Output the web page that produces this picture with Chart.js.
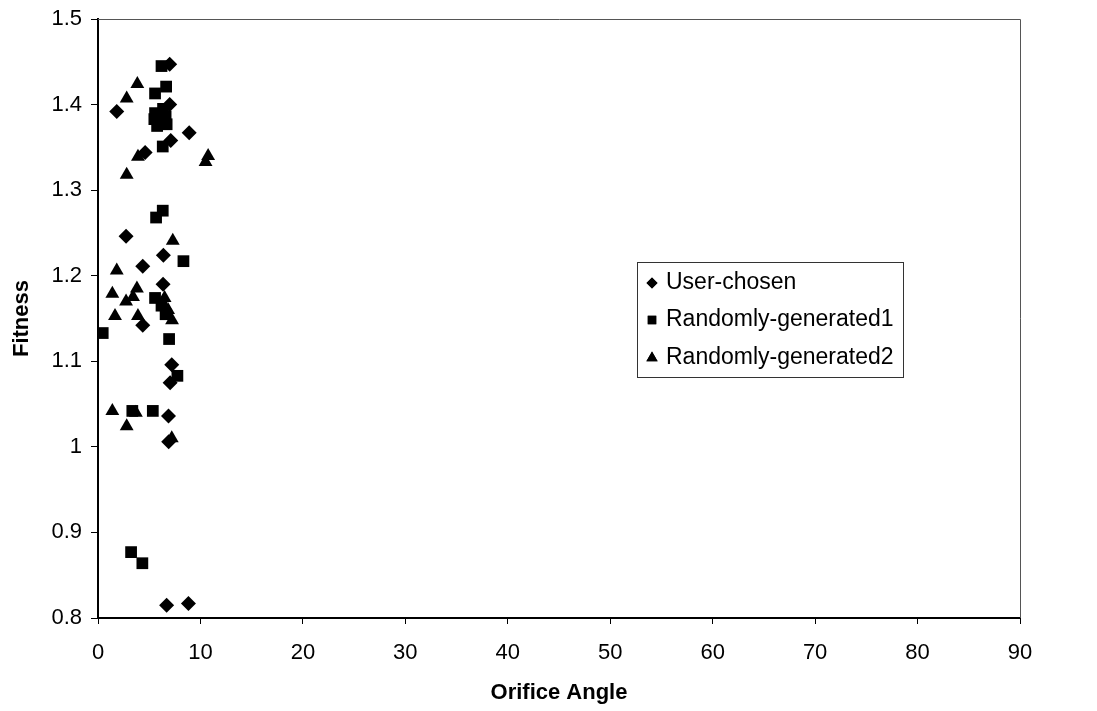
<!DOCTYPE html>
<html>
<head>
<meta charset="utf-8">
<script src="https://cdn.jsdelivr.net/npm/chart.js@4/dist/chart.umd.min.js"></script>
<style>
  html, body { margin: 0; padding: 0; background: #fff; }
  #wrap { width: 1097px; height: 711px; position: relative; }
</style>
</head>
<body>
<div id="wrap"><canvas id="c" width="1097" height="711"></canvas></div>
<script>
// Orifice angle (degrees) vs. fitness for three design sets
const seriesNames = ['User-chosen', 'Randomly-generated1', 'Randomly-generated2'];

const userX = [7.0, 1.83, 7.0, 8.9, 7.1, 4.6, 2.74, 6.38, 4.37, 6.35, 4.37, 7.2, 7.04, 6.88, 6.9, 6.7, 8.83];
const userY = [1.447, 1.392, 1.400, 1.367, 1.358, 1.344, 1.246, 1.224, 1.211, 1.190, 1.142, 1.096, 1.075, 1.036, 1.006, 0.815, 0.817];

const rand1X = [6.2, 6.65, 5.57, 5.57, 6.35, 5.5, 6.6, 5.77, 6.7, 6.32, 6.32, 5.67, 8.34, 5.57, 6.2, 6.6, 0.46, 6.94, 7.75, 3.35, 5.35, 3.23, 4.33];
const rand1Y = [1.445, 1.421, 1.413, 1.390, 1.395, 1.383, 1.386, 1.375, 1.377, 1.351, 1.276, 1.268, 1.217, 1.174, 1.165, 1.155, 1.133, 1.126, 1.083, 1.042, 1.042, 0.877, 0.864];

const rand2X = [3.84, 2.8, 3.9, 10.5, 10.75, 2.8, 7.3, 1.83, 3.8, 1.4, 2.74, 3.42, 6.5, 6.84, 7.23, 1.66, 3.9, 1.4, 3.7, 2.8, 7.2];
const rand2Y = [1.424, 1.407, 1.339, 1.333, 1.340, 1.318, 1.241, 1.206, 1.185, 1.179, 1.170, 1.175, 1.174, 1.160, 1.148, 1.153, 1.153, 1.042, 1.040, 1.024, 1.010];

const xTickLabels = ['0', '10', '20', '30', '40', '50', '60', '70', '80', '90'];
const yTickLabels = ['0.8', '0.9', '1', '1.1', '1.2', '1.3', '1.4', '1.5'];

const FONT = '"Liberation Sans", Arial, sans-serif';

function pts(xs, ys) { return xs.map((x, i) => ({ x: x, y: ys[i] })); }

const markerStyles = [
  { pointStyle: 'rectRot', radius: 7.5 },
  { pointStyle: 'rect', radius: 8.3 },
  { pointStyle: 'triangle', radius: 8 }
];

const datasets = [pts(userX, userY), pts(rand1X, rand1Y), pts(rand2X, rand2Y)].map((d, i) => ({
  label: seriesNames[i],
  data: d,
  pointStyle: markerStyles[i].pointStyle,
  pointRadius: markerStyles[i].radius,
  pointBackgroundColor: '#000',
  pointBorderColor: '#000',
  pointBorderWidth: 0,
  showLine: false
}));

// plot frame (top and right edges) and in-plot legend box
const framePlugin = {
  id: 'frameAndLegend',
  afterDraw(chart) {
    const { ctx, chartArea: a } = chart;
    ctx.save();
    ctx.strokeStyle = '#555';
    ctx.lineWidth = 1;
    ctx.beginPath();
    ctx.moveTo(a.left, a.top + 0.5);
    ctx.lineTo(a.right + 0.5, a.top + 0.5);
    ctx.lineTo(a.right + 0.5, a.bottom);
    ctx.stroke();

    // legend
    const bx = 637, by = 262, bw = 266, bh = 115;
    ctx.strokeStyle = '#333';
    ctx.strokeRect(bx + 0.5, by + 0.5, bw, bh);
    ctx.font = '23px ' + FONT;
    ctx.fillStyle = '#000';
    ctx.textBaseline = 'middle';
    const rows = [282, 319, 357];
    const legendMarks = [
      { style: 'rectRot', r: 5.5 },
      { style: 'rect', r: 6 },
      { style: 'triangle', r: 6.5 }
    ];
    seriesNames.forEach((name, i) => {
      Chart.helpers.drawPoint(ctx, {
        pointStyle: legendMarks[i].style,
        radius: legendMarks[i].r,
        borderWidth: 0
      }, 652, rows[i] + 1);
      ctx.fillStyle = '#000';
      ctx.fill();
      ctx.fillText(name, 666, rows[i] + 1);
    });
    ctx.restore();
  }
};

new Chart(document.getElementById('c'), {
  type: 'scatter',
  data: { datasets },
  plugins: [framePlugin],
  options: {
    responsive: false,
    animation: false,
    layout: { padding: { top: 19, right: 77, bottom: 0, left: 0 } },
    plugins: { legend: { display: false }, tooltip: { enabled: false } },
    scales: {
      x: {
        type: 'linear',
        min: 0, max: 90,
        ticks: {
          stepSize: 10,
          color: '#000',
          font: { family: FONT, size: 22 },
          padding: 16,
          callback: (v, i) => xTickLabels[i]
        },
        grid: { drawOnChartArea: false, drawTicks: true, tickLength: 6, color: '#000', lineWidth: 1 },
        border: { color: '#000', width: 2 },
        title: {
          display: true,
          text: 'Orifice Angle',
          color: '#000',
          font: { family: FONT, size: 22, weight: 'bold' },
          padding: { top: 10, bottom: 5 }
        },
        afterFit(scale) {
          scale.height = 93;
          scale.paddingLeft = 0;
          scale.paddingRight = 0;
        }
      },
      y: {
        type: 'linear',
        min: 0.8, max: 1.5,
        ticks: {
          stepSize: 0.1,
          color: '#000',
          font: { family: FONT, size: 22 },
          padding: 9,
          callback: (v, i) => yTickLabels[i]
        },
        grid: { drawOnChartArea: false, drawTicks: true, tickLength: 7, color: '#000', lineWidth: 1 },
        border: { color: '#000', width: 2 },
        title: {
          display: true,
          text: 'Fitness',
          color: '#000',
          font: { family: FONT, size: 22, weight: 'bold' },
          padding: { top: 9, bottom: 4 }
        },
        afterFit(scale) {
          scale.width = 98;
          scale.paddingTop = 0;
          scale.paddingBottom = 0;
        }
      }
    }
  }
});
</script>
</body>
</html>
